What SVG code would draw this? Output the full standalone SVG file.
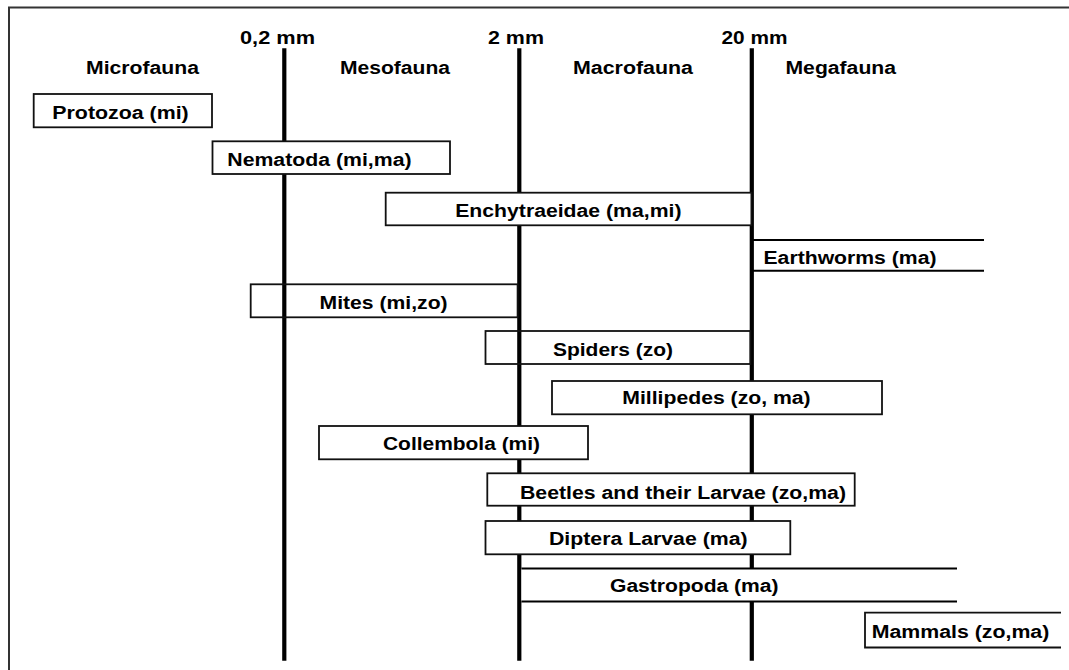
<svg xmlns="http://www.w3.org/2000/svg" width="1069" height="670" viewBox="0 0 1069 670">
<style>
text{font-family:"Liberation Sans",Arial,sans-serif;font-weight:bold;font-size:18px;fill:#000}
.box{fill:#fff;stroke:#111;stroke-width:1.8}
.open{fill:none;stroke:#111;stroke-width:1.8}
.bar{stroke:#000;stroke-width:2}
.axis{stroke:#000;stroke-width:4.2}
.frame{stroke:#333;stroke-width:2;fill:none}
</style>
<rect width="1069" height="670" fill="#fff"/>
<g id="frame">
<path class="frame" d="M9,670 V7.5 H1069"/>
</g>
<g id="headings">
<text x="240" y="43.5" textLength="75" lengthAdjust="spacingAndGlyphs">0,2 mm</text>
<text x="488" y="43.5" textLength="56" lengthAdjust="spacingAndGlyphs">2 mm</text>
<text x="721.5" y="43.5" textLength="66" lengthAdjust="spacingAndGlyphs">20 mm</text>
<text x="86" y="74.3" textLength="113" lengthAdjust="spacingAndGlyphs">Microfauna</text>
<text x="340" y="74.3" textLength="110" lengthAdjust="spacingAndGlyphs">Mesofauna</text>
<text x="573" y="74.3" textLength="120" lengthAdjust="spacingAndGlyphs">Macrofauna</text>
<text x="785.5" y="74.3" textLength="110.5" lengthAdjust="spacingAndGlyphs">Megafauna</text>
</g>
<g id="connectors">
<line class="axis" x1="284.3" y1="48.3" x2="284.3" y2="660.7"/>
<line class="axis" x1="519.3" y1="48.3" x2="519.3" y2="660.7"/>
<line class="axis" x1="751.8" y1="48.3" x2="751.8" y2="660.7"/>
</g>
<g id="protozoa">
<rect class="box" x="33.7" y="94" width="178.3" height="33.3"/>
<text x="52.3" y="118.5" textLength="136.4" lengthAdjust="spacingAndGlyphs">Protozoa (mi)</text>
</g>
<g id="nematoda">
<rect class="box" x="212.5" y="141.3" width="237.5" height="32.7"/>
<text x="227.3" y="165.9" textLength="184.3" lengthAdjust="spacingAndGlyphs">Nematoda (mi,ma)</text>
</g>
<g id="enchytraeidae">
<rect class="box" x="385.7" y="192.7" width="365.7" height="32.6"/>
<text x="455.2" y="216.9" textLength="226.3" lengthAdjust="spacingAndGlyphs">Enchytraeidae (ma,mi)</text>
</g>
<g id="earthworms">
<line class="bar" x1="752" y1="240" x2="984" y2="240"/>
<line class="bar" x1="752" y1="270.7" x2="984" y2="270.7"/>
<text x="763.5" y="263.5" textLength="173" lengthAdjust="spacingAndGlyphs">Earthworms (ma)</text>
</g>
<g id="mites">
<rect class="open" x="250.7" y="284.3" width="266.9" height="33"/>
<text x="319.6" y="308.9" textLength="128" lengthAdjust="spacingAndGlyphs">Mites (mi,zo)</text>
</g>
<g id="spiders">
<rect class="open" x="485.5" y="331" width="264.9" height="33"/>
<text x="553" y="355.9" textLength="120" lengthAdjust="spacingAndGlyphs">Spiders (zo)</text>
</g>
<g id="millipedes">
<rect class="box" x="552" y="381" width="330" height="33.3"/>
<text x="622.3" y="403.9" textLength="188.3" lengthAdjust="spacingAndGlyphs">Millipedes (zo, ma)</text>
</g>
<g id="collembola">
<rect class="box" x="319" y="426" width="269" height="33.3"/>
<text x="383" y="450.2" textLength="157" lengthAdjust="spacingAndGlyphs">Collembola (mi)</text>
</g>
<g id="beetles">
<rect class="box" x="487.3" y="473.3" width="367.4" height="32.4"/>
<text x="520" y="498.5" textLength="326" lengthAdjust="spacingAndGlyphs">Beetles and their Larvae (zo,ma)</text>
</g>
<g id="diptera">
<rect class="box" x="485.5" y="521" width="304.8" height="33.3"/>
<text x="549" y="545.2" textLength="198.6" lengthAdjust="spacingAndGlyphs">Diptera Larvae (ma)</text>
</g>
<g id="gastropoda">
<rect x="521.5" y="568.5" width="435.5" height="33" fill="#fff"/>
<line class="bar" x1="521.4" y1="568.5" x2="957" y2="568.5"/>
<line class="bar" x1="521.4" y1="601.5" x2="957" y2="601.5"/>
<text x="610" y="591.5" textLength="168.6" lengthAdjust="spacingAndGlyphs">Gastropoda (ma)</text>
</g>
<g id="mammals">
<path class="box" d="M1061,612.7 H865 V647.5 H1061"/>
<text x="871.7" y="637.5" textLength="177.6" lengthAdjust="spacingAndGlyphs">Mammals (zo,ma)</text>
</g>
</svg>
